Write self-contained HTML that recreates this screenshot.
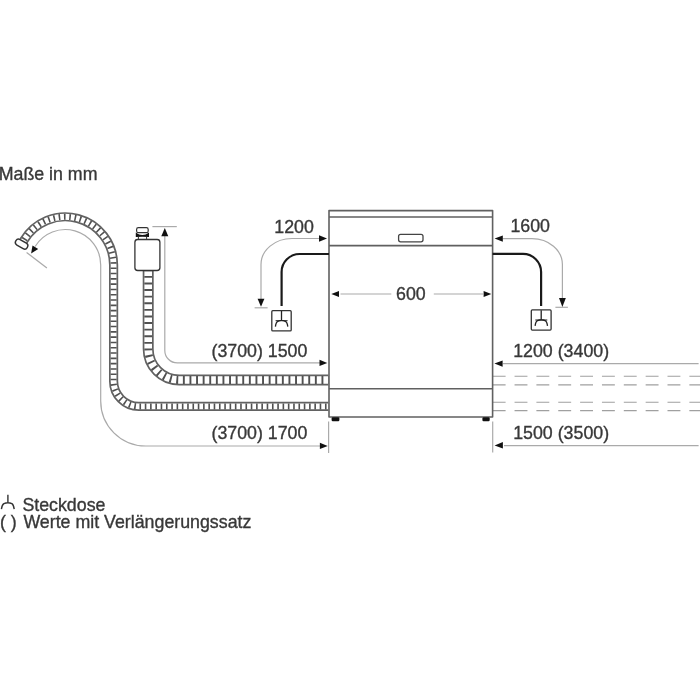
<!DOCTYPE html>
<html><head><meta charset="utf-8"><style>
html,body{margin:0;padding:0;background:#fff;width:700px;height:700px;overflow:hidden}
svg{position:absolute;left:0;top:0;display:block;filter:blur(0.45px)}
text{font-family:"Liberation Sans",sans-serif;font-size:17.8px;fill:#383838;stroke:#383838;stroke-width:0.35px}
</style></head><body>
<svg width="700" height="700" viewBox="0 0 700 700">
<rect x="0" y="0" width="700" height="700" fill="#fff"/>

<!-- title -->
<text x="-1.3" y="179.5">Maße in mm</text>

<!-- ===== dimension lines (gray) ===== -->
<g fill="none" stroke="#aaa" stroke-width="1.2">
  <!-- 1700 big line from hose cap around -->
  <path d="M35.1 246.5 A35.4 35.4 0 0 1 100.7 265 V401 A45 45 0 0 0 145.7 446 H320"/>
  <!-- extension at cap -->
  <path d="M26.6 252.4 L46.9 267.9"/>
  <!-- 1500 line from aquastop -->
  <path d="M152.4 226.6 H176.8"/>
  <path d="M164.8 236 V350.4 A12.5 12.5 0 0 0 177.3 362.9 H320"/>
  <!-- 1200 left -->
  <path d="M319 238.5 H292 A31 26 0 0 0 261 264.5 V299"/>
  <path d="M254.6 307.8 H267.6"/>
  <!-- 1600 right -->
  <path d="M503 238.6 H532 A30.4 26 0 0 1 562.4 264.6 V298"/>
  <path d="M555.4 307.3 H567.9"/>
  <!-- 600 -->
  <path d="M340.5 294 H391.3 M433.8 294 H483"/>
  <!-- 1200 (3400) -->
  <path d="M503 363.6 H698.6"/>
  <!-- 1500 (3500) -->
  <path d="M504 445.6 H698.6"/>
  <!-- extension lines below box -->
  <path d="M328.6 421.4 V453 M492.7 421.4 V452.5"/>
</g>

<!-- arrow heads -->
<g fill="#111">
  <polygon points="31.1,253.6 32.5,245.4 38.2,248.9"/>
  <polygon points="164.8,227.9 161.3,236.3 168.3,236.3"/>
  <polygon points="327,238.5 319,235.3 319,241.7"/>
  <polygon points="261,306.8 257.6,298.8 264.4,298.8"/>
  <polygon points="494.6,238.6 502.8,235.4 502.8,241.8"/>
  <polygon points="562.4,307 559,297.9 565.8,297.9"/>
  <polygon points="331.3,294 339,290.9 339,297.1"/>
  <polygon points="491.3,294 483.6,290.9 483.6,297.1"/>
  <polygon points="327.3,362.9 319.5,359.7 319.5,366.1"/>
  <polygon points="327.7,445.9 319.9,442.7 319.9,449.1"/>
  <polygon points="494.4,363.6 502.6,360.4 502.6,366.8"/>
  <polygon points="494.6,445.4 502.9,442.1 502.9,448.6"/>
</g>

<!-- dashed lines right -->
<g stroke="#a0a0a0" stroke-width="1.1" stroke-dasharray="12.9 8.95">
  <path d="M492.7 376.2 H700 M492.7 384.9 H700 M492.7 402.3 H700 M492.7 410.6 H700"/>
</g>

<!-- ===== hoses ===== -->
<!-- lower/long hose -->
<g fill="none">
  <path d="M23.5 240.9 A48.3 48.3 0 0 1 113.6 265 V381 A25.3 25.3 0 0 0 138.9 406.4 H328.5" stroke="#626262" stroke-width="9.2"/>
  <path d="M23.5 240.9 A48.3 48.3 0 0 1 113.6 265 V381 A25.3 25.3 0 0 0 138.9 406.4 H328.5" stroke="#fff" stroke-width="5.8"/>
  <path d="M23.5 240.9 A48.3 48.3 0 0 1 113.6 265 V381 A25.3 25.3 0 0 0 138.9 406.4 H328.5" stroke="#505050" stroke-width="6" stroke-dasharray="1.6 3.7" stroke-dashoffset="3.9"/>
</g>
<!-- upper hose -->
<g fill="none">
  <path d="M148.2 271 V349 A31 31 0 0 0 179.2 380 H328.5" stroke="#626262" stroke-width="11"/>
  <path d="M148.2 271 V349 A31 31 0 0 0 179.2 380 H328.5" stroke="#fff" stroke-width="7.6"/>
  <path d="M148.2 271 V349 A31 31 0 0 0 179.2 380 H328.5" stroke="#505050" stroke-width="7.8" stroke-dasharray="1.9 4.7" stroke-dashoffset="1.7"/>
</g>
<!-- hose end cap -->
<rect x="-6.6" y="-3.2" width="13.2" height="6.4" rx="3" transform="translate(21.6 244.1) rotate(30)" fill="#fff" stroke="#333" stroke-width="1.4"/>

<!-- aquastop -->
<rect x="134.9" y="239.5" width="25" height="31" rx="2.8" fill="#fff" stroke="#333" stroke-width="1.3"/>
<rect x="136.6" y="227.7" width="11.6" height="5" rx="1.8" fill="#fff" stroke="#333" stroke-width="1.2"/>
<path d="M135.8 232.4 Q142.4 237.6 149 232.4 L149 236.9 Q142.4 236.4 135.8 236.9 Z" fill="#111"/>
<path d="M138.4 237 V239.5 M146.6 237 V239.5" stroke="#333" stroke-width="1"/>

<!-- ===== dishwasher ===== -->
<g fill="none" stroke="#606060" stroke-width="1.6" stroke-linejoin="round">
  <path d="M329 417 V210.6 H492.6 V417 Z"/>
  <path d="M329 217 H492.6 M329 245.6 H492.6 M329 388.8 H492.6"/>
  <rect x="398.6" y="234.3" width="24.4" height="7.5" rx="2" stroke="#444" stroke-width="1.3"/>
</g>
<rect x="331.6" y="417.2" width="7.8" height="4" rx="1.2" fill="#111"/>
<rect x="482.4" y="417.2" width="7.3" height="4" rx="1.2" fill="#111"/>

<!-- ===== power cables ===== -->
<g fill="none" stroke="#1a1a1a" stroke-width="2.2">
  <path d="M329 254 H299.6 A18 18 0 0 0 281.6 272 V306"/>
  <path d="M492.6 253.9 H523 A18.1 18.1 0 0 1 541.1 272 V306"/>
</g>
<!-- sockets -->
<g fill="none" stroke="#333" stroke-width="1.3">
  <rect x="271.8" y="310.7" width="19.4" height="20.2" rx="1"/>
  <rect x="531.3" y="309.9" width="19.8" height="20.2" rx="1"/>
</g>
<g fill="none" stroke="#222" stroke-width="1.3">
  <path d="M275.6 320.7 H287.6" stroke-width="1"/>
  <path d="M281.5 311.0 V320.6 M275.4 326.6 C275.7 324.0 276.4 322.0 277.8 321.3 C280.0 320.3 283.2 320.3 285.4 321.3 C286.8 322.0 287.5 324.0 287.8 326.6"/>
  <path d="M535.3 320.0 H547.3" stroke-width="1"/>
  <path d="M541.2 310.3 V319.9 M535.1 325.9 C535.4 323.3 536.1 321.3 537.5 320.6 C539.7 319.6 542.9 319.6 545.1 320.6 C546.5 321.3 547.2 323.3 547.5 325.9"/>
</g>

<!-- texts -->
<text x="274.3" y="232.5">1200</text>
<text x="510.4" y="231.8">1600</text>
<text x="396.1" y="300">600</text>
<text x="211.5" y="357.3">(3700) 1500</text>
<text x="211.5" y="438.6">(3700) 1700</text>
<text x="513.2" y="357.3">1200 (3400)</text>
<text x="513.2" y="438.6">1500 (3500)</text>

<!-- legend -->
<g fill="none" stroke="#333" stroke-width="1.4">
  <path d="M7.9 494.7 V502.8 M1.4 509.2 C1.8 506.5 2.5 504.5 3.9 503.7 C6.3 502.6 9.5 502.6 11.9 503.7 C13.2 504.5 13.8 506.5 14.2 509.2"/>
</g>
<text x="22.4" y="510.6">Steckdose</text>
<text x="0" y="528.3">( )</text>
<text x="23.4" y="528.3">Werte mit Verlängerungssatz</text>
</svg>
</body></html>
